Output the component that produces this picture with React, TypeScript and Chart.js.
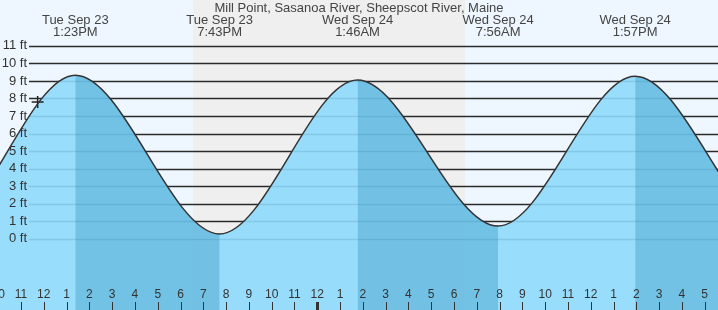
import React, { useEffect, useRef } from "react";
import { Chart, registerables } from "chart.js";

Chart.register(...registerables);

// Hours counted from Tue Sep 23, 00:00
const extremeHours = [1.0, 7.33, 13.383, 19.717, 25.767, 31.933, 37.95, 44.33, 50.58];
const extremeFeet = [9.2, 0.4, 9.33, 0.27, 9.05, 0.72, 9.27, 0.3, 9.2];
const extremeDayLabels = ["", "", "Tue Sep 23", "Tue Sep 23", "Wed Sep 24", "Wed Sep 24", "Wed Sep 24", "", ""];
const extremeTimeLabels = ["", "", "1:23PM", "7:43PM", "1:46AM", "7:56AM", "1:57PM", "", ""];

const nowHour = [11.73];
const nowFeet = [7.8];

const sunsetHour = 18.548;
const sunriseHour = 30.483;

const footTicks = [0, 1, 2, 3, 4, 5, 6, 7, 8, 9, 10, 11];
const hourTicks = [10, 11, 12, 13, 14, 15, 16, 17, 18, 19, 20, 21, 22, 23, 24, 25, 26, 27, 28, 29, 30, 31, 32, 33, 34, 35, 36, 37, 38, 39, 40, 41];

const titleText = "Mill Point, Sasanoa River, Sheepscot River, Maine";

const X_MIN = 10.079;
const X_MAX = 41.584;
const Y_MIN = -4.07;
const Y_MAX = 13.62;

const LIGHT = "rgba(142,217,252,0.9)";
const DARK_OVER = "rgba(25,133,179,0.3)";
const FONT = '"Liberation Sans", Arial, sans-serif';

const hourLabel = (h: number) => {
  const v = h % 12;
  return String(v === 0 ? 12 : v);
};

const decorPlugin = {
  id: "decor",
  beforeDraw(chart: any) {
    const { ctx, width, height, scales } = chart;
    const x = scales.x;
    ctx.save();
    ctx.fillStyle = "#eef7ff";
    ctx.fillRect(0, 0, width, height);
    const x0 = x.getPixelForValue(sunsetHour);
    const x1 = x.getPixelForValue(sunriseHour);
    ctx.fillStyle = "#efefef";
    ctx.fillRect(x0, 0, x1 - x0, height);
    ctx.strokeStyle = "#2b2b2b";
    ctx.lineWidth = 1.3;
    const y = scales.y;
    for (const f of footTicks) {
      const py = Math.round(y.getPixelForValue(f)) + 0.5;
      ctx.beginPath();
      ctx.moveTo(29, py);
      ctx.lineTo(width, py);
      ctx.stroke();
    }
    ctx.restore();
  },
  afterDatasetsDraw(chart: any) {
    const { ctx, width, height, scales } = chart;
    const x = scales.x;
    const y = scales.y;
    ctx.save();
    ctx.fillStyle = "#333";
    // y labels
    ctx.font = `13px ${FONT}`;
    ctx.textAlign = "right";
    ctx.textBaseline = "middle";
    for (const f of footTicks) {
      ctx.fillText(`${f} ft`, 27, y.getPixelForValue(f));
    }
    // hour labels and ticks
    ctx.font = `12px ${FONT}`;
    ctx.textAlign = "center";
    for (const h of hourTicks) {
      const px = x.getPixelForValue(h);
      ctx.fillStyle = "#333";
      ctx.fillText(hourLabel(h), px, 295);
      const w = h % 24 === 0 ? 3 : 1;
      ctx.fillRect(Math.round(px) - (w === 3 ? 1 : 0), 302, w, height - 302);
    }
    // title
    ctx.font = `13px ${FONT}`;
    ctx.fillStyle = "#444";
    ctx.fillText(titleText, width / 2, 8);
    // extremes labels
    for (let i = 0; i < extremeHours.length; i++) {
      if (!extremeDayLabels[i]) continue;
      const px = x.getPixelForValue(extremeHours[i]);
      ctx.fillText(extremeDayLabels[i], px, 20);
      ctx.fillText(extremeTimeLabels[i], px, 32);
    }
    ctx.restore();
  },
};

export default function App() {
  const ref = useRef<HTMLCanvasElement | null>(null);
  useEffect(() => {
    document.body.style.margin = "0";
    const canvas = ref.current;
    if (!canvas) return;
    const tidePoints = extremeHours.map((h, i) => ({ x: h, y: extremeFeet[i] }));
    const chart = new Chart(canvas, {
      type: "line",
      data: {
        datasets: [
          {
            // falling-tide shading laid over the water
            data: tidePoints,
            borderColor: "rgba(0,0,0,0)",
            borderWidth: 0,
            backgroundColor: "rgba(0,0,0,0)",
            fill: "start",
            cubicInterpolationMode: "monotone",
            pointRadius: 0,
            segment: {
              backgroundColor: (c: any) => (c.p1.parsed.y < c.p0.parsed.y ? DARK_OVER : "rgba(0,0,0,0)"),
            },
          } as any,
          {
            data: tidePoints,
            borderColor: "#333",
            borderWidth: 1.5,
            backgroundColor: LIGHT,
            fill: "start",
            cubicInterpolationMode: "monotone",
            pointRadius: 0,
          } as any,
          {
            data: nowHour.map((h, i) => ({ x: h, y: nowFeet[i] })),
            showLine: false,
            pointStyle: "cross",
            pointRadius: 6,
            pointBorderColor: "#222",
            pointBorderWidth: 1.5,
            borderColor: "#222",
            fill: false,
          } as any,
        ],
      },
      options: {
        animation: false,
        responsive: false,
        devicePixelRatio: 1,
        layout: { padding: 0, autoPadding: false },
        events: [],
        plugins: {
          legend: { display: false },
          tooltip: { enabled: false },
          filler: { drawTime: "beforeDatasetsDraw" },
        } as any,
        scales: {
          x: { type: "linear", min: X_MIN, max: X_MAX, display: false },
          y: { type: "linear", min: Y_MIN, max: Y_MAX, display: false },
        },
      },
      plugins: [decorPlugin],
    });
    return () => chart.destroy();
  }, []);
  return (
    <div style={{ width: 718, height: 310 }}>
      <canvas ref={ref} width={718} height={310} style={{ display: "block" }} />
    </div>
  );
}
